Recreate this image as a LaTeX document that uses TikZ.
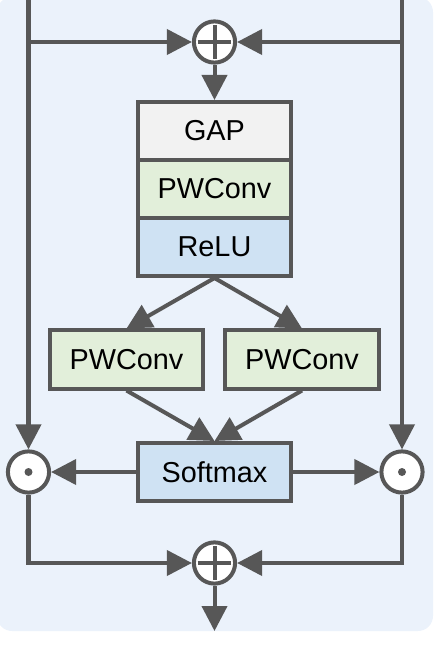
\documentclass[tikz,border=0pt]{standalone}
\usepackage{fontspec}
\setmainfont{Liberation Sans}
\usetikzlibrary{arrows.meta}
\definecolor{linegray}{HTML}{575757}
\definecolor{bgblue}{HTML}{EBF2FB}
\definecolor{gapgray}{HTML}{F2F2F2}
\definecolor{convgreen}{HTML}{E2EFDA}
\definecolor{actblue}{HTML}{CFE2F3}

\begin{document}
\begin{tikzpicture}[x=0.025cm, y=-0.025cm,
    every node/.style={font=\fontsize{20.5}{24}\selectfont},
    block/.style={draw=linegray, line width=0.1cm, minimum width=3.825cm, minimum height=1.45cm, inner sep=0pt},
    opnode/.style={circle, draw=linegray, fill=white, line width=0.1cm, minimum size=1.03cm, inner sep=0pt},
    wire/.style={draw=linegray, line width=0.1cm},
    arr/.style={wire, -{Triangle[length=0.625cm, width=0.625cm]}}]
    \useasboundingbox (0,0) rectangle (436,645);
    \fill[bgblue, rounded corners=0.375cm] (-3,-3) rectangle (433,631);

    \node[opnode] (tplus) at (214.5,42) {};
    \node[block, fill=gapgray] (gap) at (214.5,131) {GAP};
    \node[block, fill=convgreen] (conv) at (214.5,189) {PWConv};
    \node[block, fill=actblue] (relu) at (214.5,247) {ReLU};
    \node[block, fill=convgreen] (convl) at (126.5,359.5) {PWConv};
    \node[block, fill=convgreen] (convr) at (302,359.5) {PWConv};
    \node[block, fill=actblue] (soft) at (214.5,472) {Softmax};
    \node[opnode] (mull) at (28.5,472) {};
    \node[opnode] (mulr) at (402,472) {};
    \node[opnode] (bplus) at (214.5,563) {};
    \coordinate (inl) at (28.5,-3);
    \coordinate (inr) at (402,-3);
    \coordinate (out) at (214.5,631);

    % plus and dot marks
    \foreach \n in {tplus,bplus}
        \draw[wire] ([xshift=-0.42cm]\n.center) -- ([xshift=0.42cm]\n.center)
                    ([yshift=-0.42cm]\n.center) -- ([yshift=0.42cm]\n.center);
    \foreach \n in {mull,mulr}
        \fill[linegray] (\n) circle (4);

    \draw[arr] (inl) -- (mull);
    \draw[arr] (inr) -- (mulr);
    \draw[arr] (inl |- tplus) -- (tplus);
    \draw[arr] (inr |- tplus) -- (tplus);
    \draw[arr] (tplus) -- (gap);
    \foreach \b in {convl,convr} {
        \draw[arr] (relu.south) -- (\b.north);
        \draw[arr] (\b.south) -- (soft.north);
    }
    \draw[arr] (soft) -- (mull);
    \draw[arr] (soft) -- (mulr);
    \draw[arr] (mull) |- (bplus);
    \draw[arr] (mulr) |- (bplus);
    \draw[arr] (bplus) -- (out);
\end{tikzpicture}
\end{document}
